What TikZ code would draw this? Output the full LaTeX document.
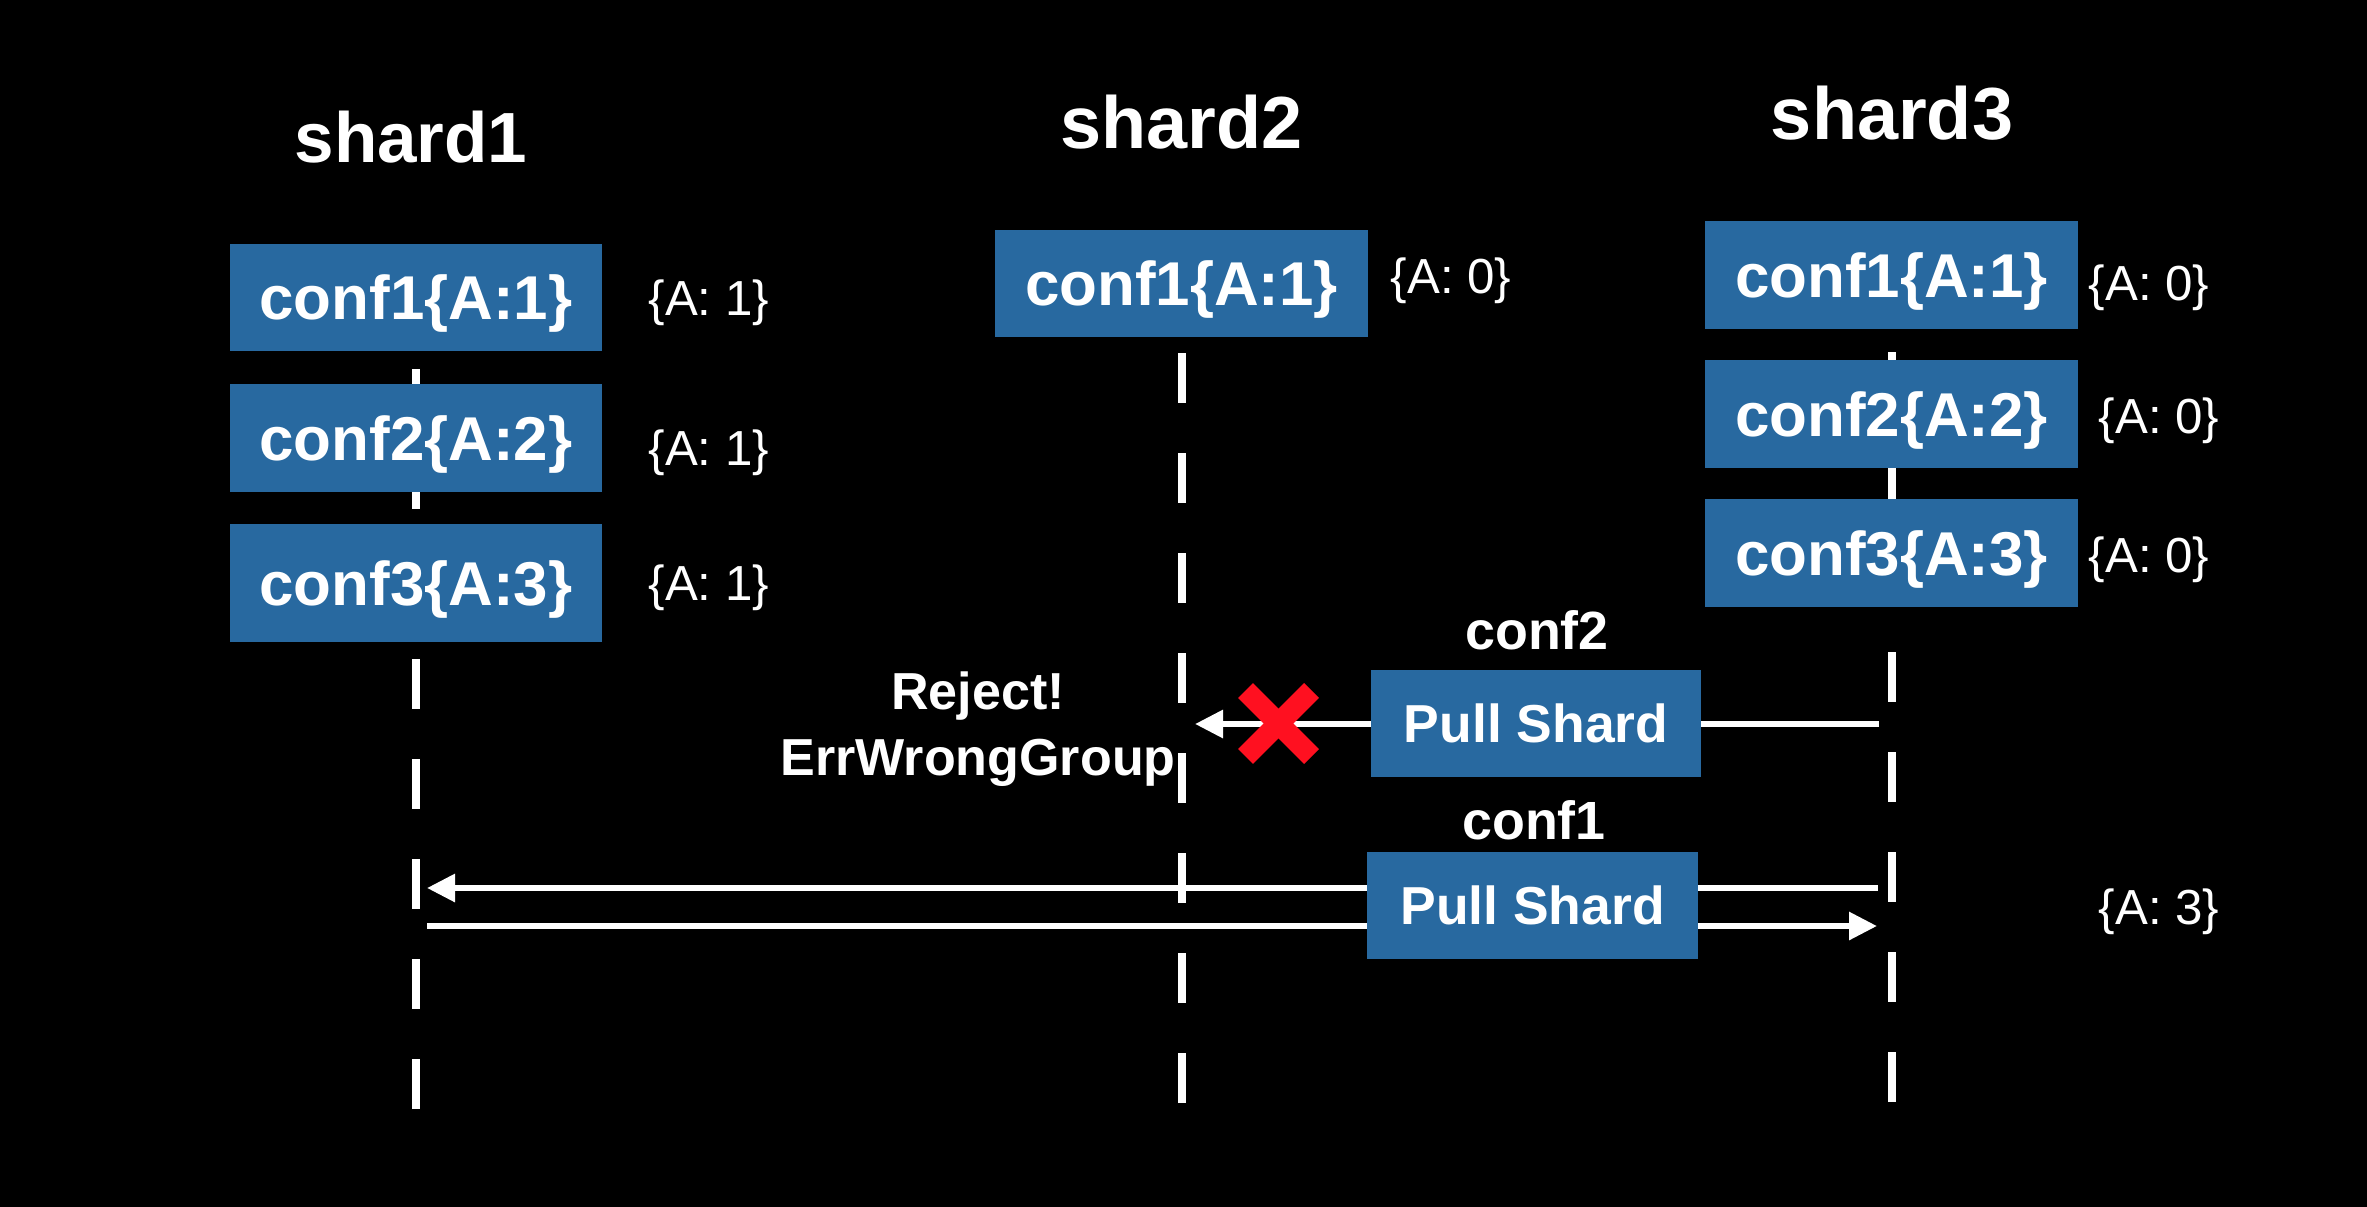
\documentclass[tikz,border=0pt]{standalone}
\usepackage{fontspec}
\setmainfont{Liberation Sans}
\usetikzlibrary{arrows.meta}
\definecolor{boxblue}{RGB}{40,105,160}
\definecolor{xred}{RGB}{255,16,32}
\begin{document}
\begin{tikzpicture}[x=0.01cm,y=-0.01cm,
  confbox/.style={fill=boxblue, text=white, inner sep=0pt,
    font=\fontsize{17.6}{20}\selectfont\bfseries,
    minimum width=3.72cm, minimum height=1.07cm,
    text height=12.6pt, text depth=0pt},
  pullbox/.style={fill=boxblue, text=white, inner sep=0pt,
    font=\fontsize{15.2}{18}\selectfont\bfseries,
    minimum width=3.30cm, minimum height=1.07cm,
    text height=10.9pt, text depth=0pt},
  title/.style={text=white, anchor=base, inner sep=0pt,
    font=\fontsize{21}{24}\selectfont\bfseries},
  state/.style={text=white, anchor=base west, inner sep=0pt,
    font=\fontsize{14}{17}\selectfont},
  msglabel/.style={text=white, anchor=base, inner sep=0pt,
    font=\fontsize{15.3}{18}\selectfont\bfseries},
  lifeline/.style={draw=white, line width=0.08cm, dash pattern=on 0.5cm off 0.5cm},
  msg/.style={draw=white, line width=0.06cm},
  tip/.style={-{Triangle[length=0.28cm,width=0.27cm]}},
  redx/.style={draw=xred, line width=0.21cm}
]
\useasboundingbox (0,0) rectangle (2367,1206);
\fill[black] (-10,-10) rectangle (2377,1216);

% lifelines
\coordinate (l1a) at (416,1109); \coordinate (l1b) at (416,369);
\coordinate (l2a) at (1182,1103); \coordinate (l2b) at (1182,353);
\coordinate (l3a) at (1892,1102); \coordinate (l3b) at (1892,352);
\draw[lifeline] (l1a) -- (l1b);
\draw[lifeline] (l2a) -- (l2b);
\draw[lifeline] (l3a) -- (l3b);

% messages
\coordinate (r2s) at (1879,724); \coordinate (r2e) at (1195,724);
\coordinate (c1s) at (1878,888); \coordinate (c1e) at (427,888);
\coordinate (b1s) at (427,926);  \coordinate (b1e) at (1877,926);
\draw[msg,tip] (r2s) -- (r2e);
\draw[msg,tip] (c1s) -- (c1e);
\draw[msg,tip] (b1s) -- (b1e);

% titles
\node[title, font=\fontsize{20.2}{24}\selectfont\bfseries] (t1) at (411,162) {shard1};
\node[title] (t2) at (1181.5,148) {shard2};
\node[title] (t3) at (1892,139) {shard3};

% shard1 boxes
\node[confbox] (s1c1) at (416,297.5) {conf1\{A:1\}};
\node[confbox] (s1c2) at (416,438) {conf2\{A:2\}};
\node[confbox, minimum height=1.18cm] (s1c3) at (416,583) {conf3\{A:3\}};
% shard2 box
\node[confbox] (s2c1) at (1181.5,283.5) {conf1\{A:1\}};
% shard3 boxes
\node[confbox] (s3c1) at (1891.5,275) {conf1\{A:1\}};
\node[confbox] (s3c2) at (1891.5,414) {conf2\{A:2\}};
\node[confbox] (s3c3) at (1891.5,553) {conf3\{A:3\}};

% state labels
\node[state] (a11) at (648,315) {\{A: 1\}};
\node[state] (a12) at (648,465) {\{A: 1\}};
\node[state] (a13) at (648,600) {\{A: 1\}};
\node[state] (a21) at (1390,293) {\{A: 0\}};
\node[state] (a31) at (2088,300) {\{A: 0\}};
\node[state] (a32) at (2098,433) {\{A: 0\}};
\node[state] (a33) at (2088,572) {\{A: 0\}};
\node[state] (a3f) at (2098,924) {\{A: 3\}};

% pull shard boxes
\node[pullbox] (p1) at (1536,723.5) {Pull Shard};
\node[pullbox] (p2) at (1532.5,905.5) {Pull Shard};
\node[msglabel] (m2) at (1537,649) {conf2};
\node[msglabel] (m1) at (1534,839) {conf1};

% reject
\node[msglabel, align=center, font=\fontsize{14.8}{18.5}\selectfont\bfseries] (rej) at (978,775) {Reject!\\ErrWrongGroup};
\coordinate (xc) at (1278.5,723.5);
\draw[redx] (xc) ++(-33,-33) -- ++(66,66);
\draw[redx] (xc) ++(-33,33) -- ++(66,-66);
\end{tikzpicture}
\end{document}
